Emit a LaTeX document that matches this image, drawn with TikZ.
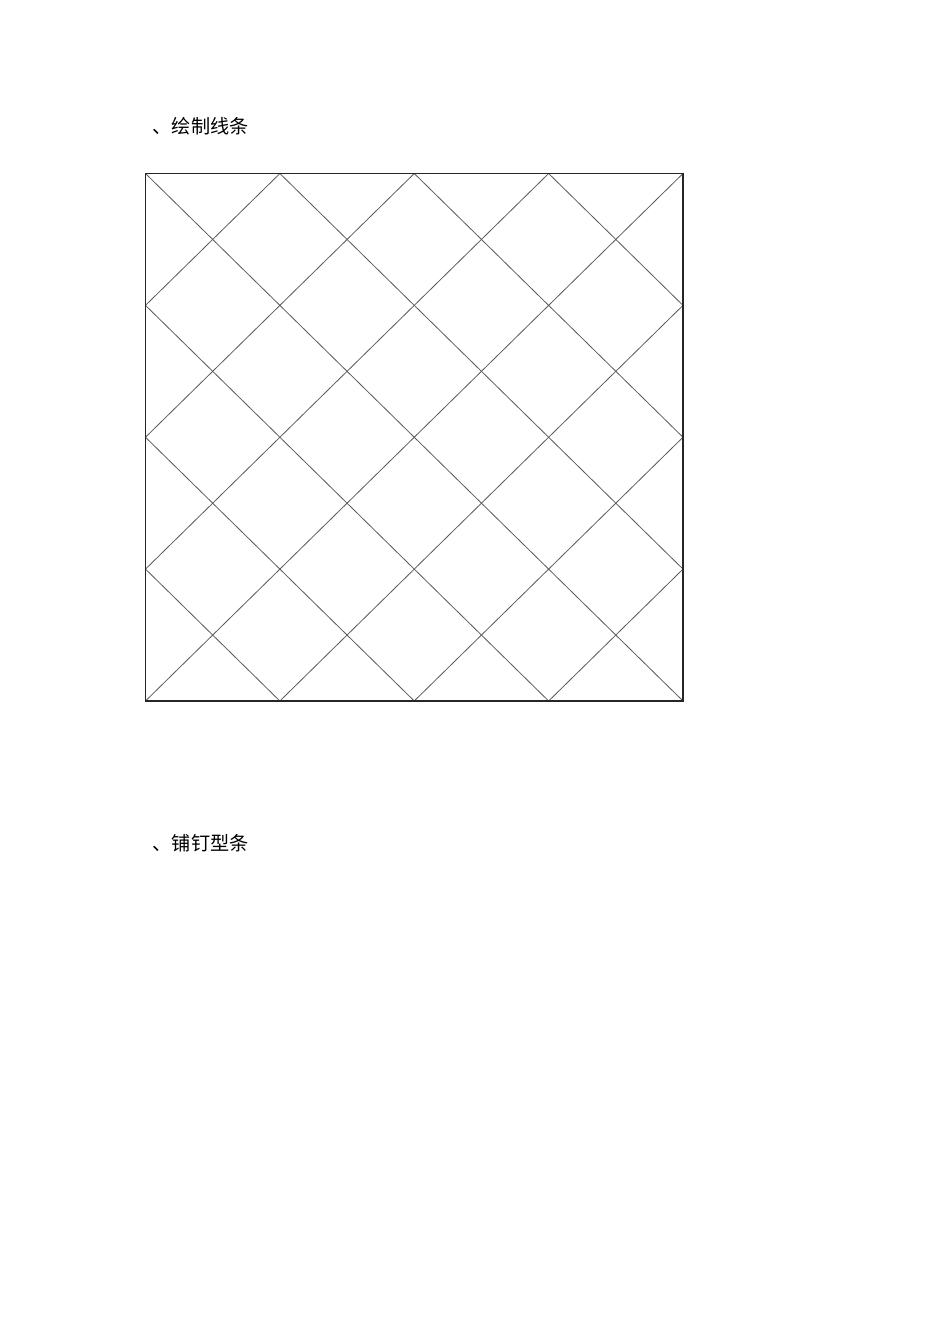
\documentclass[tikz,border=0pt]{standalone}
\usepackage{fontspec}
\newfontfamily\cjk{Noto Sans CJK SC}
\usepackage{tikz}

\begin{document}
\begin{tikzpicture}[x=0.6266pt,y=-0.6266pt,
    rim/.style={draw=black!85,line width=0.7pt},
    diag/.style={draw=black!65,line width=0.5pt},
    lbl/.style={anchor=base west,inner sep=0pt,font=\cjk\fontsize{12pt}{14pt}\selectfont}]
  \useasboundingbox (0,0) rectangle (950,1344);
  % headings
  \node[lbl] (head1) at (152.5,133.5) {、绘制线条};
  \node[lbl] (head2) at (152.5,850.5) {、铺钉型条};
  % square with diagonal lattice
  \begin{scope}[shift={(145.5,173.5)},x=84.2pt,y=-82.63pt]
    \coordinate (tl) at (0,0);
    \coordinate (br) at (4,4);
    \begin{scope}
      \clip (tl) rectangle (br);
      \foreach \k in {-3,...,3}
        \draw[diag] (\k,0) -- ++(4,4);
      \foreach \k in {1,...,7}
        \draw[diag] (\k,0) -- ++(-4,4);
    \end{scope}
    \draw[rim] (tl) rectangle (br);
  \end{scope}
\end{tikzpicture}
\end{document}
